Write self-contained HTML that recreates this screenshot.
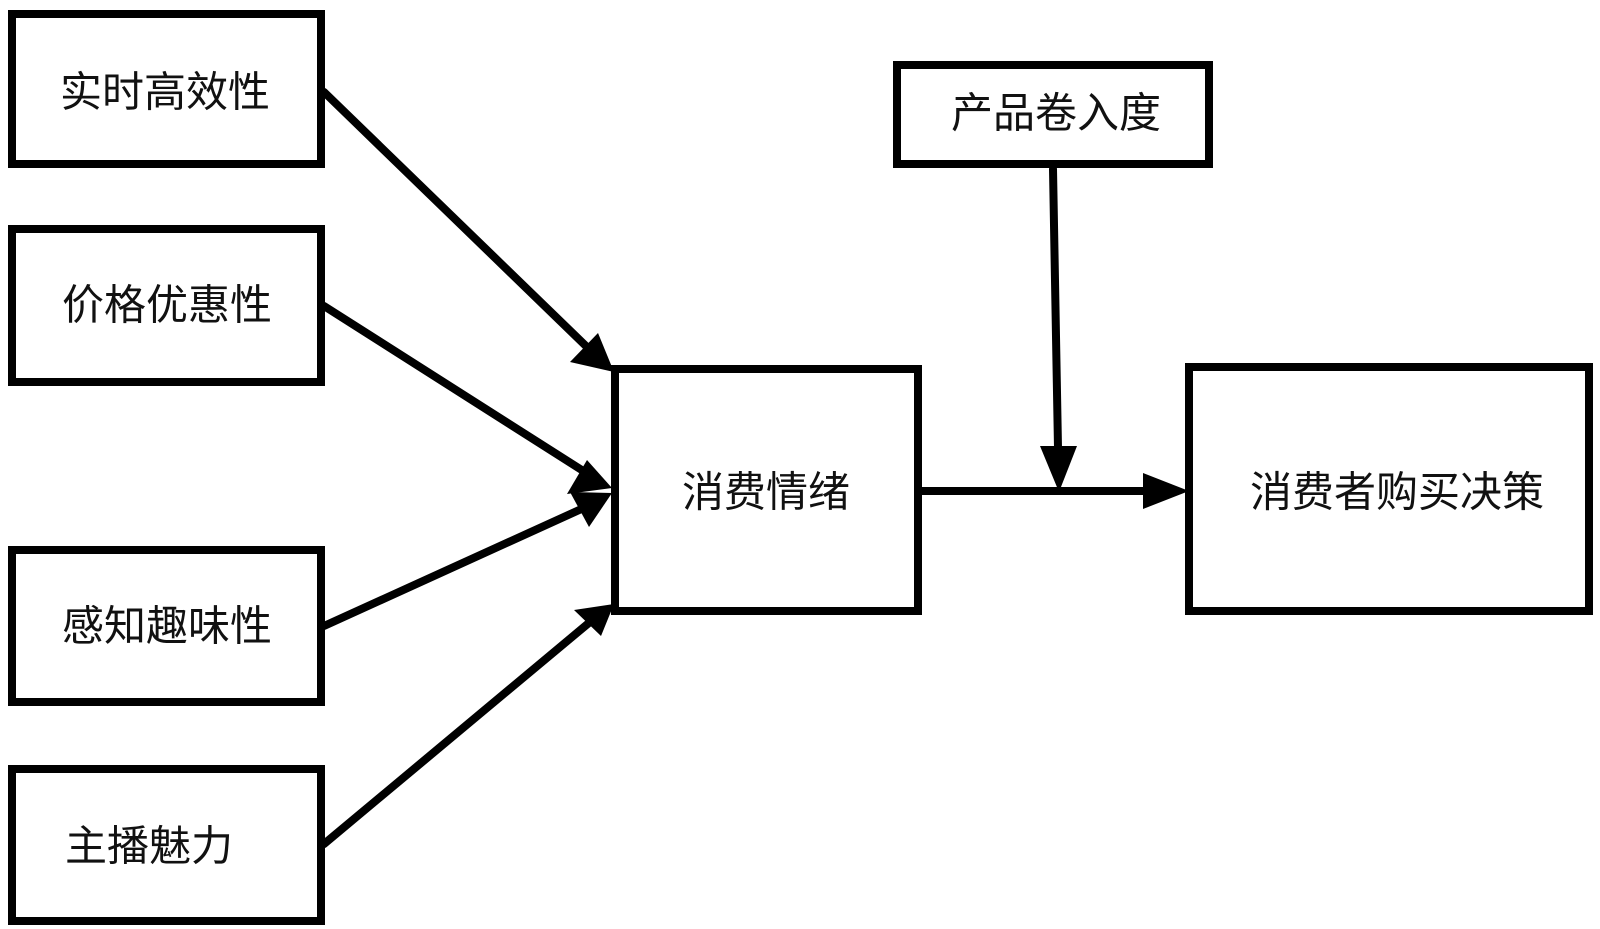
<!DOCTYPE html>
<html><head><meta charset="utf-8"><style>
html,body{margin:0;padding:0;background:#fff;}
svg{display:block;}
text{font-family:"Liberation Sans","Noto Sans CJK SC",sans-serif;font-size:42px;fill:#111;text-anchor:middle;dominant-baseline:central;}
</style></head><body>
<svg width="1600" height="929" viewBox="0 0 1600 929">
<g fill="none" stroke="#000" stroke-width="8">
<rect x="12" y="14" width="309" height="150"/>
<rect x="12" y="229" width="309" height="153"/>
<rect x="12" y="550" width="309" height="152"/>
<rect x="12" y="769" width="309" height="152"/>
<rect x="615" y="369" width="303" height="242"/>
<rect x="897" y="65" width="312" height="99"/>
<rect x="1189" y="367" width="400" height="244"/>
</g>
<g stroke="#000" stroke-width="8" stroke-linecap="round">
<line x1="324" y1="92" x2="588" y2="348"/>
<line x1="324" y1="306" x2="588" y2="474"/>
<line x1="324" y1="626" x2="588" y2="506"/>
<line x1="324" y1="844" x2="590" y2="622"/>
<line x1="1053" y1="169" x2="1058" y2="448"/>
<line x1="921" y1="491" x2="1148" y2="491"/>
</g>
<g fill="#000">
<polygon points="614,372 570,362 598,333"/>
<polygon points="612,488 567,494 587,460"/>
<polygon points="612,493 589,527 570,492"/>
<polygon points="614,604 601,636 574,610"/>
<polygon points="1059,492 1040,446 1077,446"/>
<polygon points="1189,491 1143,473 1143,509"/>
</g>
<text x="165" y="92">实时高效性</text>
<text x="167" y="305">价格优惠性</text>
<text x="167" y="626">感知趣味性</text>
<text x="149" y="846">主播魅力</text>
<text x="1056" y="113">产品卷入度</text>
<text x="766" y="492">消费情绪</text>
<text x="1397" y="492">消费者购买决策</text>
</svg>
</body></html>
